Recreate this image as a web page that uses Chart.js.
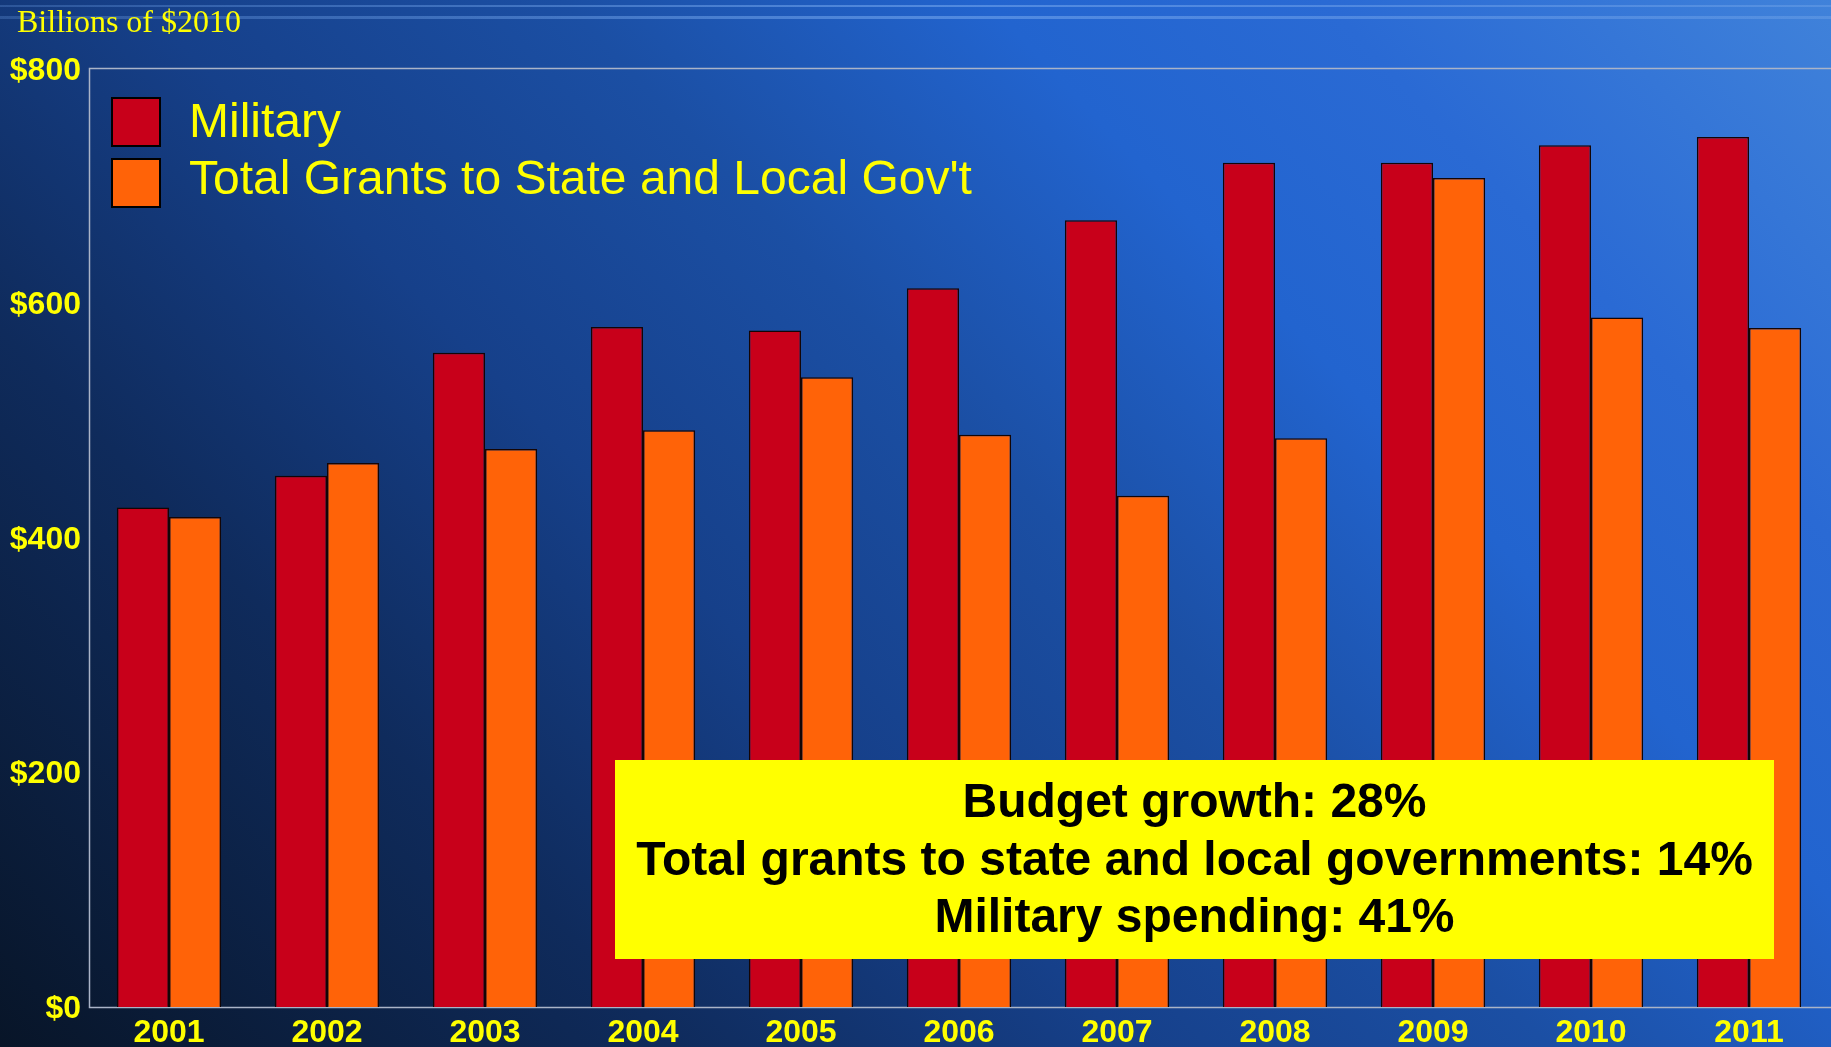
<!DOCTYPE html>
<html>
<head>
<meta charset="utf-8">
<title>Military vs Grants to State and Local Gov't</title>
<script src="https://cdn.jsdelivr.net/npm/chart.js@4.4.1/dist/chart.umd.min.js"></script>
<style>
    html, body { margin: 0; padding: 0; background: #0a1830; overflow: hidden; }
    #wrap { width: 1831px; height: 1047px; position: relative; }
</style>
</head>
<body>
<div id="wrap"><canvas id="chart"></canvas></div>
<script>
// Data (billions of 2010 dollars)
const years = ['2001', '2002', '2003', '2004', '2005', '2006', '2007', '2008', '2009', '2010', '2011'];
const military = [426, 453, 558, 580, 577, 613, 671, 720, 720, 735, 742];
const grants = [418, 464, 476, 492, 537, 488, 436, 485, 707, 588, 579];
const yTicks = [0, 200, 400, 600, 800];
const seriesNames = ['Military', "Total Grants to State and Local Gov't"];
const noteLines = [
    'Budget growth: 28%',
    'Total grants to state and local governments: 14%',
    'Military spending: 41%'
];

const YELLOW = '#ffff00';
const colors = {
    military: '#c8001a',
    grants: '#ff6308',
    frame: '#aab4c8'
};

// Slide background, axis frame, legend and the yellow note
const slidePlugin = {
    id: 'slide',
    beforeDraw(chart) {
        const { ctx, width, height } = chart;
        ctx.save();
        const g = ctx.createLinearGradient(0, height, 1493, -359);
        g.addColorStop(0, '#081528');
        g.addColorStop(0.24, '#0f2b5c');
        g.addColorStop(0.4, '#16408a');
        g.addColorStop(0.55, '#1b4fa4');
        g.addColorStop(0.7, '#2264cf');
        g.addColorStop(0.82, '#2a6ad4');
        g.addColorStop(1, '#4082da');
        ctx.fillStyle = g;
        ctx.fillRect(0, 0, width, height);

        // thin light stripes along the top
        const s = ctx.createLinearGradient(0, 0, width, 0);
        s.addColorStop(0, 'rgba(120,170,240,0.25)');
        s.addColorStop(0.5, 'rgba(120,170,240,0.55)');
        s.addColorStop(1, 'rgba(150,190,245,0.25)');
        ctx.fillStyle = s;
        ctx.fillRect(0, 5, width, 2);
        ctx.fillRect(0, 16, width, 3);

        ctx.fillStyle = YELLOW;
        ctx.font = '32px "Liberation Serif", "Times New Roman", serif';
        ctx.textBaseline = 'alphabetic';
        ctx.fillText('Billions of $2010', 17, 32);
        ctx.restore();
    },
    beforeDatasetsDraw(chart) {
        const { ctx, chartArea: a } = chart;
        ctx.save();
        ctx.strokeStyle = colors.frame;
        ctx.lineWidth = 1.5;
        ctx.beginPath();
        ctx.moveTo(a.right + 3, a.top - 0.5);
        ctx.lineTo(a.left - 0.5, a.top - 0.5);
        ctx.lineTo(a.left - 0.5, a.bottom + 0.5);
        ctx.lineTo(a.right + 3, a.bottom + 0.5);
        ctx.stroke();
        ctx.restore();
    },
    afterDraw(chart) {
        const { ctx } = chart;
        ctx.save();

        // legend
        ctx.font = '48px "Liberation Sans", Arial, sans-serif';
        ctx.textBaseline = 'alphabetic';
        chart.data.datasets.forEach((ds, i) => {
            const top = 98 + i * 61;
            ctx.fillStyle = ds.backgroundColor;
            ctx.fillRect(112, top, 48, 48);
            ctx.strokeStyle = '#000';
            ctx.lineWidth = 2;
            ctx.strokeRect(112, top, 48, 48);
            ctx.fillStyle = YELLOW;
            ctx.fillText(ds.label, 189, 137 + i * 57);
        });

        // note box
        ctx.fillStyle = '#ffff00';
        ctx.fillRect(615, 760, 1159, 199);
        ctx.fillStyle = '#000';
        ctx.font = 'bold 48px "Liberation Sans", Arial, sans-serif';
        ctx.textAlign = 'center';
        ctx.textBaseline = 'middle';
        noteLines.forEach((line, i) => {
            ctx.fillText(line, 1194.5, 804 + i * 57.5);
        });
        ctx.restore();
    }
};

new Chart(document.getElementById('chart'), {
    type: 'bar',
    data: {
        labels: years,
        datasets: [
            {
                label: seriesNames[0],
                data: military,
                backgroundColor: colors.military,
                borderColor: '#140505',
                borderWidth: 1.5,
                barPercentage: 1.0,
                categoryPercentage: 0.66
            },
            {
                label: seriesNames[1],
                data: grants,
                backgroundColor: colors.grants,
                borderColor: '#140505',
                borderWidth: 1.5,
                barPercentage: 1.0,
                categoryPercentage: 0.66
            }
        ]
    },
    options: {
        responsive: true,
        maintainAspectRatio: false,
        animation: false,
        layout: {
            padding: { left: 0, top: 69, right: 3, bottom: 0 }
        },
        plugins: {
            legend: { display: false },
            tooltip: { enabled: false }
        },
        scales: {
            x: {
                grid: { display: false, drawTicks: false },
                border: { display: false },
                ticks: {
                    color: YELLOW,
                    padding: 7,
                    font: { family: '"Liberation Sans", Arial, sans-serif', size: 32, weight: 'bold' }
                },
                afterFit(scale) { scale.height = 40; }
            },
            y: {
                min: 0,
                max: 800,
                grid: { display: false, drawTicks: false },
                border: { display: false },
                afterBuildTicks(scale) {
                    scale.ticks = yTicks.map(v => ({ value: v }));
                },
                ticks: {
                    color: YELLOW,
                    padding: 9,
                    labelOffset: 2,
                    font: { family: '"Liberation Sans", Arial, sans-serif', size: 32, weight: 'bold' },
                    callback: v => '$' + v
                },
                afterFit(scale) { scale.width = 90; }
            }
        }
    },
    plugins: [slidePlugin]
});
</script>
</body>
</html>
